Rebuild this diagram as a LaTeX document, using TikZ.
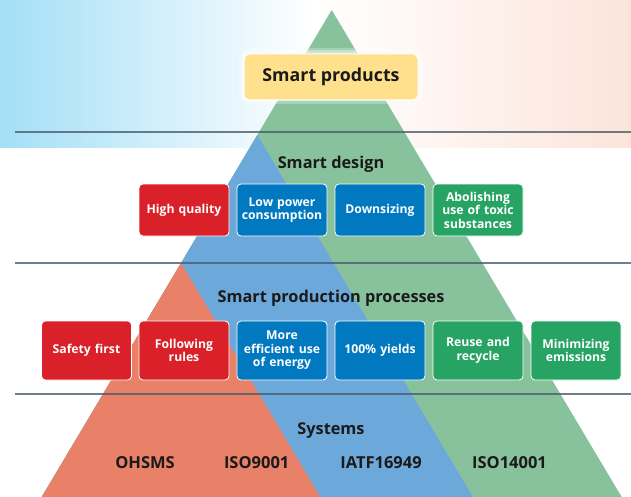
\documentclass[tikz,border=0pt]{standalone}
\usepackage{fontspec}
\setmainfont{Open Sans}
\definecolor{triG}{HTML}{88C29C}
\definecolor{triB}{HTML}{6DA8DA}
\definecolor{triR}{HTML}{E98068}
\definecolor{boxR}{HTML}{DA2129}
\definecolor{boxB}{HTML}{0079C1}
\definecolor{boxG}{HTML}{27A463}
\definecolor{boxY}{HTML}{FFE08C}
\definecolor{gradL}{HTML}{A3DFF6}
\definecolor{gradR}{HTML}{FCE4DA}
\definecolor{sepline}{HTML}{4A5F6E}
\definecolor{ink}{HTML}{1A1A1A}
\tikzset{
  itembox/.style={draw=white, line width=0.8pt, rounded corners=4pt, minimum width=90pt, text width=88pt, align=center, inner sep=0pt, text=white, font=\bfseries\fontsize{12.2}{13.5}\selectfont},
  rowone/.style={itembox, minimum height=52pt},
  rowtwo/.style={itembox, minimum height=59pt},
  tierlabel/.style={text=ink, font=\bfseries\fontsize{16.3}{18}\selectfont, inner sep=0pt},
  syslabel/.style={text=ink, font=\bfseries\fontsize{16.5}{18}\selectfont, inner sep=0pt},
  sepstyle/.style={draw=sepline, opacity=0.8, line width=1.2pt}
}
\begin{document}
\begin{tikzpicture}[x=1pt,y=-1pt]
\useasboundingbox (0,0) rectangle (631,497);
\begin{scope}
\clip (0,0) rectangle (631,497);
% background gradient
\shade[left color=gradL, right color=gradR, middle color=white] (0,0) rectangle (631,148);
% triangles
\fill[triG] (331.7,10) -- (621.7,497) -- (41.7,497) -- cycle;
\fill[triB] (257.3,135) -- (472.9,497) -- (41.7,497) -- cycle;
\fill[triR] (181,263) -- (320.3,497) -- (41.7,497) -- cycle;
\end{scope}
% separators
\coordinate (l1a) at (15,132); \coordinate (l1b) at (631,132);
\coordinate (l2a) at (15,263); \coordinate (l2b) at (631,263);
\coordinate (l3a) at (15,394); \coordinate (l3b) at (631,394);
\draw[sepstyle] (l1a) -- (l1b);
\draw[sepstyle] (l2a) -- (l2b);
\draw[sepstyle] (l3a) -- (l3b);
% smart products box with glow
\fill[white, opacity=0.25, rounded corners=8pt] (239,48) rectangle (423,104);
\fill[white, opacity=0.45, rounded corners=7pt] (241.5,50.5) rectangle (420.5,101.5);
\node[draw=white, line width=1pt, fill=boxY, rounded corners=5pt, minimum width=174pt, minimum height=46pt, inner sep=0pt, text=ink, font=\bfseries\fontsize{17.8}{20}\selectfont] (prod) at (331,77) {Smart products};
% tier titles
\node[tierlabel] (design) at (331,164) {Smart design};
\node[tierlabel] (process) at (331,298.5) {Smart production processes};
\node[tierlabel] (systems) at (331,431) {Systems};
% row one
\node[rowone, fill=boxR] (hq) at (184,210) {High quality};
\node[rowone, fill=boxB] (lp) at (282,210) {Low power\\consumption};
\node[rowone, fill=boxB] (ds) at (380,210) {Downsizing};
\node[rowone, fill=boxG] (ab) at (478,210) {Abolishing\\use of toxic\\substances};
% row two
\node[rowtwo, fill=boxR] (sf) at (86.5,350.5) {Safety first};
\node[rowtwo, fill=boxR] (fr) at (184,350.5) {Following\\rules};
\node[rowtwo, fill=boxB] (me) at (282,350.5) {More\\efficient use\\of energy};
\node[rowtwo, fill=boxB] (yi) at (380,350.5) {100\% yields};
\node[rowtwo, fill=boxG] (rr) at (478,350.5) {Reuse and\\recycle};
\node[rowtwo, fill=boxG] (mi) at (576,350.5) {Minimizing\\emissions};
% systems
\node[syslabel] (oh) at (145,462.5) {OHSMS};
\node[syslabel] (iso9) at (256.7,462.5) {ISO9001};
\node[syslabel] (iatf) at (381,462.5) {IATF16949};
\node[syslabel] (iso14) at (509.5,462.5) {ISO14001};
\end{tikzpicture}
\end{document}
